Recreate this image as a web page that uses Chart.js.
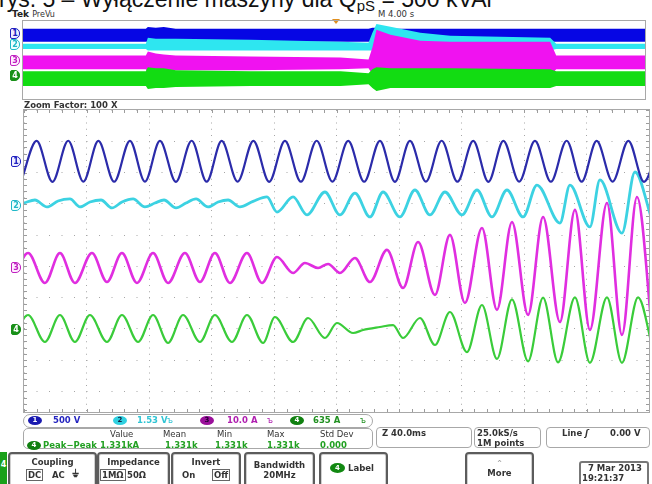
<!DOCTYPE html>
<html>
<head>
<meta charset="utf-8">
<script src="https://cdn.jsdelivr.net/npm/chart.js@4.4.1/dist/chart.umd.min.js"></script>
<style>
  html, body { margin: 0; padding: 0; background: #fff; }
  #page { position: relative; width: 652px; height: 484px; overflow: hidden; font-family: "DejaVu Sans", sans-serif; color: #222; }
  .abs { position: absolute; white-space: nowrap; }
  .title { font-family: "Liberation Sans", Arial, sans-serif; font-size: 23px; line-height: 23px; color: #111; }
  .small { font-size: 8.5px; line-height: 10px; }
  .marker { position: absolute; width: 10px; height: 11px; box-sizing: border-box; border: 1px solid; border-radius: 2px 5px 5px 2px;
            font: bold 8px/9px "DejaVu Sans", sans-serif; text-align: center; }
  .frame { position: absolute; box-sizing: border-box; border: 1px solid #a8a8a8; }
  .badge { position: absolute; width: 14px; height: 9px; border-radius: 50%; font: bold 7px/9px "DejaVu Sans", sans-serif; text-align: center; }
  .btn { position: absolute; top: 452px; height: 40px; box-sizing: border-box; border: 2px solid #5c5c5c; border-radius: 4px;
         box-shadow: inset 0 0 0 1px #d0d0d0; background: #fff; font: bold 8.5px/10px "DejaVu Sans", sans-serif; color: #333; text-align: center; }
  .opt { position: absolute; font: bold 8.5px/10px "DejaVu Sans", sans-serif; color: #333; }
  .boxed { border: 1px solid #666; padding: 0 1px; }
</style>
</head>
<body>
<div id="page">
  <!-- caption above the screen capture -->
  <div class="abs title" style="left:-1px; top:-12px;">rys. 5 – Wyłączenie maszyny dla Q<span style="font-size:15px; position:relative; top:4px;">pS</span> = 500 kVAr</div>

  <!-- header of the record overview -->
  <div class="abs" style="left:12px; top:9px; font: bold 9px/10px 'DejaVu Sans', sans-serif; color:#222;">Tek <span style="font-weight:normal; font-size:8px; color:#333;">PreVu</span></div>
  <div class="abs" style="left:378px; top:9px; font: 8.5px/10px 'DejaVu Sans', sans-serif; color:#333;">M 4.00 s</div>
  <div class="abs" style="left:332px; top:19px; width:0; height:0; border-left:4px solid transparent; border-right:4px solid transparent; border-top:5px solid #e09020;"></div>

  <!-- overview window -->
  <div class="frame" style="left:22px; top:20px; width:624px; height:80px;"></div>
  <canvas id="overview" class="abs" width="622" height="78" style="left:23px; top:21px;"></canvas>
  <div class="marker" style="left:10px; top:28px; color:#2020c0; border-color:#2020c0; background:#eef;">1</div>
  <div class="marker" style="left:10px; top:39px; color:#20b8c8; border-color:#20b8c8; background:#eff;">2</div>
  <div class="marker" style="left:10px; top:55px; color:#c020c0; border-color:#c020c0; background:#fef;">3</div>
  <div class="marker" style="left:10px; top:70px; color:#fff; border-color:#189018; background:#189018;">4</div>

  <div class="abs" style="left:24px; top:100px; font: bold 8.5px/10px 'DejaVu Sans', sans-serif; color:#333;">Zoom Factor: 100 X</div>

  <!-- zoomed waveform window -->
  <div class="frame" style="left:23px; top:109px; width:627px; height:304px;"></div>
  <canvas id="zoom" class="abs" width="625" height="302" style="left:24px; top:110px;"></canvas>
  <div class="marker" style="left:11px; top:156px; color:#2020c0; border-color:#2020c0; background:#eef;">1</div>
  <div class="marker" style="left:11px; top:200px; color:#20b8c8; border-color:#20b8c8; background:#eff;">2</div>
  <div class="marker" style="left:11px; top:262px; color:#c020c0; border-color:#c020c0; background:#fef;">3</div>
  <div class="marker" style="left:11px; top:324px; color:#fff; border-color:#189018; background:#189018;">4</div>

  <!-- channel readouts -->
  <div class="frame" style="left:23px; top:414px; width:350px; height:14px; border-radius:7px;"></div>
  <div class="badge" style="left:28px; top:416px; background:#1a1ab0; color:#fff;">1</div>
  <div class="abs small" style="left:53px; top:415px; color:#2525c0; font-weight:bold;">500 V</div>
  <div class="badge" style="left:113px; top:416px; background:#30d0e0; color:#124;">2</div>
  <div class="abs small" style="left:137px; top:415px; color:#30c4d4; font-weight:bold;">1.53 V</div>
  <div class="abs small" style="left:167px; top:415px; color:#30c4d4;">ъ</div>
  <div class="badge" style="left:200px; top:416px; background:#9a109a; color:#203;">3</div>
  <div class="abs small" style="left:227px; top:415px; color:#b020b0; font-weight:bold;">10.0 A</div>
  <div class="abs small" style="left:267px; top:415px; color:#b020b0;">ъ</div>
  <div class="badge" style="left:290px; top:416px; background:#108010; color:#fff;">4</div>
  <div class="abs small" style="left:313px; top:415px; color:#209020; font-weight:bold;">635 A</div>
  <div class="abs small" style="left:360px; top:415px; color:#209020;">ъ</div>

  <!-- measurement readout -->
  <div class="frame" style="left:23px; top:428px; width:350px; height:21px; border-radius:5px;"></div>
  <div class="abs small" style="left:110px; top:429px; color:#333;">Value</div>
  <div class="abs small" style="left:163px; top:429px; color:#333;">Mean</div>
  <div class="abs small" style="left:217px; top:429px; color:#333;">Min</div>
  <div class="abs small" style="left:267px; top:429px; color:#333;">Max</div>
  <div class="abs small" style="left:320px; top:429px; color:#333;">Std Dev</div>
  <div class="badge" style="left:27px; top:441px; background:#108010; color:#fff;">4</div>
  <div class="abs small" style="left:43px; top:440px; color:#22a022; font-weight:bold;">Peak−Peak</div>
  <div class="abs small" style="left:100px; top:440px; color:#22a022; font-weight:bold;">1.331kA</div>
  <div class="abs small" style="left:165px; top:440px; color:#22a022; font-weight:bold;">1.331k</div>
  <div class="abs small" style="left:215px; top:440px; color:#22a022; font-weight:bold;">1.331k</div>
  <div class="abs small" style="left:267px; top:440px; color:#22a022; font-weight:bold;">1.331k</div>
  <div class="abs small" style="left:320px; top:440px; color:#22a022; font-weight:bold;">0.000</div>

  <!-- timebase and trigger readouts -->
  <div class="frame" style="left:376px; top:427px; width:96px; height:21px; border-radius:4px;"></div>
  <div class="abs small" style="left:382px; top:428px; color:#333; font-weight:bold;">Z 40.0ms</div>
  <div class="frame" style="left:474px; top:427px; width:67px; height:21px; border-radius:4px;"></div>
  <div class="abs small" style="left:477px; top:428px; color:#333; font-weight:bold;">25.0kS/s</div>
  <div class="abs small" style="left:477px; top:438px; color:#333; font-weight:bold;">1M points</div>
  <div class="frame" style="left:546px; top:427px; width:104px; height:21px; border-radius:4px;"></div>
  <div class="abs small" style="left:562px; top:428px; color:#333; font-weight:bold;">Line <span style="font-style:italic;">ʃ</span></div>
  <div class="abs small" style="left:610px; top:428px; color:#333; font-weight:bold;">0.00 V</div>

  <!-- soft menu -->
  <div class="abs" style="left:0; top:452px; width:7px; height:32px; background:#1aa01a; color:#fff; font: bold 8px/10px 'DejaVu Sans', sans-serif; text-align:center; padding-top:8px; box-sizing:border-box;">4</div>
  <div class="btn" style="left:8px; width:89px;"><div style="margin-top:3px;">Coupling</div></div>
  <div class="opt boxed" style="left:26px; top:469px;">DC</div>
  <div class="opt" style="left:52px; top:470px;">AC</div>
  <div class="opt" style="left:72px; top:469px; font-size:10px;">⏚</div>
  <div class="btn" style="left:97px; width:73px;"><div style="margin-top:3px;">Impedance</div></div>
  <div class="opt boxed" style="left:100px; top:469px;">1MΩ</div>
  <div class="opt" style="left:127px; top:470px;">50Ω</div>
  <div class="btn" style="left:171px; width:70px;"><div style="margin-top:3px;">Invert</div></div>
  <div class="opt" style="left:182px; top:470px;">On</div>
  <div class="opt boxed" style="left:212px; top:469px;">Off</div>
  <div class="btn" style="left:244px; width:71px;"><div style="margin-top:6px;">Bandwidth</div><div>20MHz</div></div>
  <div class="btn" style="left:319px; width:69px;"></div>
  <div class="badge" style="left:330px; top:463px; width:15px; height:10px; background:#118811; color:#fff; line-height:10px;">4</div>
  <div class="opt" style="left:348px; top:463px;">Label</div>
  <div class="btn" style="left:465px; width:69px;"><div style="margin-top:4px; color:#999; font-weight:normal;">⌃</div><div>More</div></div>
  <div class="frame" style="left:579px; top:461px; width:70px; height:30px; border:2px solid #777; border-radius:3px;"></div>
  <div class="opt" style="left:588px; top:463px;">7 Mar 2013</div>
  <div class="opt" style="left:582px; top:473px;">19:21:37</div>
</div>

<script>
// ---- zoomed acquisition window (time in ms, 40 ms/div) ----
// Ch1 voltage extremes
const ch1Time = [-1.9, 8.1, 18.2, 28.3, 38.0, 47.6, 57.7, 67.8, 77.4, 87.0, 97.2, 107.3, 116.9, 126.5,
  136.7, 146.8, 156.9, 167.0, 177.2, 187.3, 197.4, 207.5, 217.7, 227.8, 237.4, 247.0, 257.2, 267.3,
  277.4, 287.5, 297.2, 306.8, 316.9, 327.0, 337.2, 347.3, 356.9, 366.5, 376.7, 386.8, 396.8, 406.8];
const ch1Volt = [-322, 330, -325, 332, -322, 330, -324, 331, -322, 330, -325, 332, -323, 330,
  -322, 331, -325, 330, -323, 332, -322, 330, -324, 331, -325, 330, -322, 332,
  -323, 330, -325, 331, -322, 330, -324, 332, -323, 330, -322, 331, -325, 330];

// Ch2 probe signal
const ch2Time = [0, 7.0, 14.7, 21.8, 29.4, 35.8, 42.2, 49.3, 56.3, 62.7, 69.8, 77.4, 83.8, 89.6,
  97.3, 103.7, 110.1, 117.8, 124.2, 130.6, 138.2, 146.6, 155.5, 161.9, 172.2, 181.1, 192.6, 202.2,
  211.8, 221.4, 229.8, 240.6, 250.2, 259.8, 269.4, 280.3, 289.9, 299.5, 309.1, 319.4, 328.3, 343.0,
  349.4, 362.2, 368.6, 382.7, 391.0, 401.9];
const ch2Volt = [0.12, 0.27, -0.07, 0.22, 0.32, -0.07, 0.17, 0.27, -0.12, 0.17, 0.32, -0.07, 0.12, 0.27,
  -0.12, 0.12, 0.32, -0.07, 0.17, 0.27, -0.07, 0.20, 0.42, -0.32, 0.42, -0.46, 0.66, -0.46,
  0.61, -0.56, 0.66, -0.56, 0.76, -0.46, 0.66, -0.46, 0.76, -0.56, 0.76, -0.56, 1.00, -0.86,
  1.00, -1.05, 1.25, -1.35, 1.64, -0.71];

// Ch3 current
const ch3Time = [-7.7, 2.6, 13.4, 23.0, 32.6, 43.5, 53.1, 62.7, 72.3, 82.6, 92.2, 103.0, 112.6, 122.2,
  131.8, 142.7, 152.3, 161.9, 172.2, 179.8, 188.2, 194.6, 202.2, 211.8, 221.4, 232.3, 242.6, 252.2,
  263.0, 272.6, 282.2, 293.1, 302.7, 312.3, 322.6, 332.2, 343.0, 352.6, 362.2, 373.1, 382.7, 392.3, 402.6];
const ch3Amp = [-4.9, 4.7, -4.9, 4.7, -4.9, 4.7, -4.6, 4.7, -4.9, 4.7, -4.9, 4.7, -4.6, 4.7,
  -4.9, 4.7, -4.9, 3.4, -1.7, 1.5, -0.1, 1.2, -1.7, 3.1, -4.6, 5.7, -6.5, 8.2,
  -8.7, 10.5, -11.3, 12.7, -13.5, 14.6, -15.1, 16.2, -17.4, 18.5, -19.9, 20.7, -21.5, 22.6, -23.8];

// Ch4 current
const ch4Time = [-7.7, 2.6, 13.4, 23.0, 32.6, 42.2, 53.1, 62.7, 73.0, 82.6, 92.2, 101.8, 112.6, 122.2,
  133.1, 142.7, 153.0, 160.6, 172.2, 181.8, 192.6, 200.3, 210.6, 217.0, 227.8, 236.2, 242.6, 253.4,
  263.0, 272.6, 283.5, 293.1, 302.7, 312.3, 322.6, 332.2, 341.8, 352.6, 362.2, 373.1, 382.7, 393.0, 402.6];
const ch4Amp = [-258, 291, -258, 291, -258, 291, -258, 291, -258, 291, -278, 291, -258, 291,
  -258, 291, -278, 250, -258, 230, -177, 128, -75, -14, 47, 87, -177, 230,
  -319, 352, -463, 494, -600, 610, -650, 645, -670, 650, -680, 650, -680, 650, -420];

// ---- whole record overview (time in s, 4 s/div): envelope of each channel ----
const overviewTime = [0, 7.90, 8.03, 8.54, 9.05, 9.82, 14.64, 20.42, 22.22, 22.47, 22.73, 23.63, 25.55, 27.48, 33.90, 34.29, 40.0];
const ovCh1High = [314, 314, 442, 378, 442, 314, 314, 314, 314, 378, 378, 314, 314, 314, 314, 314, 314];
const ovCh1Low  = [-519, -519, -519, -519, -519, -519, -519, -519, -519, -519, -519, -519, -519, -519, -519, -519, -519];
const ovCh2High = [0.18, 0.18, 1.35, 1.16, 1.16, 1.16, 0.96, 0.57, 0.37, 2.33, 4.10, 3.51, 2.33, 1.75, 1.35, 0.18, 0.18];
const ovCh2Low  = [-0.90, -0.90, -1.20, -1.20, -1.20, -1.20, -1.20, -1.20, -1.20, -1.20, -1.20, -1.20, -1.20, -1.20, -1.20, -0.90, -0.90];
const ovCh3High = [5.6, 5.6, 10.8, 8.2, 6.9, 5.6, 4.4, 3.1, 0.5, 15.9, 39.0, 32.6, 24.9, 23.6, 23.6, 5.6, 5.6];
const ovCh3Low  = [-12.3, -12.3, -17.4, -16.1, -15.6, -13.6, -13.6, -12.3, -11.0, -18.7, -40.5, -25.1, -22.6, -21.3, -21.3, -12.3, -12.3];
const ovCh4High = [309, 309, 635, 553, 553, 391, 309, 309, 147, 472, 635, 553, 553, 553, 472, 309, 309];
const ovCh4Low  = [-912, -912, -1156, -1074, -1074, -993, -912, -912, -749, -1074, -1319, -1074, -1074, -1074, -1074, -912, -912];

// vertical settings of the four channels: units per division and ground marker (divisions below top)
const unitsPerDiv = [500, 1.53, 10.0, 635];
const markerDiv = [1.648, 3.056, 5.046, 7.018];
const traceColors = ['#2b2baa', '#3cd2e2', '#e02ee0', '#3acc3a'];
const bandColors = ['#0606e4', '#2ee6f0', '#f012f0', '#12dc12'];

const toDiv = (v, ch) => -markerDiv[ch] + v / unitsPerDiv[ch];
const pts = (times, vals, ch) => times.map((t, i) => ({ x: t, y: toDiv(vals[i], ch) }));

// short minor ticks along the graticule edges
const edgeTicks = {
  id: 'edgeTicks',
  beforeDatasetsDraw(chart) {
    const { ctx, chartArea: a, scales: { x, y } } = chart;
    ctx.save();
    ctx.strokeStyle = '#9c9c9c';
    ctx.lineWidth = 1;
    ctx.beginPath();
    for (let t = 0; t <= 400; t += 8) {
      const px = Math.round(x.getPixelForValue(t)) + 0.5;
      ctx.moveTo(px, a.top); ctx.lineTo(px, a.top + 3);
      ctx.moveTo(px, a.bottom); ctx.lineTo(px, a.bottom - 3);
    }
    for (let d = 0; d >= y.min; d -= 0.2) {
      const py = Math.round(y.getPixelForValue(d)) + 0.5;
      ctx.moveTo(a.left, py); ctx.lineTo(a.left + 3, py);
      ctx.moveTo(a.right, py); ctx.lineTo(a.right - 3, py);
    }
    ctx.stroke();
    ctx.restore();
  }
};

const trace = (data, ch, width) => ({
  data, borderColor: traceColors[ch], borderWidth: width, pointRadius: 0,
  cubicInterpolationMode: 'monotone', fill: false
});

new Chart(document.getElementById('zoom'), {
  type: 'line',
  data: {
    datasets: [
      trace(pts(ch1Time, ch1Volt, 0), 0, 2.2),
      trace(pts(ch2Time, ch2Volt, 1), 1, 2.8),
      trace(pts(ch4Time, ch4Amp, 3), 3, 2.2),
      trace(pts(ch3Time, ch3Amp, 2), 2, 2.6)
    ]
  },
  options: {
    responsive: false, animation: false, events: [],
    layout: { padding: 0 },
    plugins: { legend: { display: false }, tooltip: { enabled: false } },
    scales: {
      x: {
        type: 'linear', min: 0, max: 400,
        ticks: { display: false, stepSize: 40, includeBounds: false },
        grid: { color: '#a6a6a6', lineWidth: 1, drawTicks: false },
        border: { display: false, dash: [1, 5.25] }
      },
      y: {
        type: 'linear', min: -9.664, max: 0,
        ticks: { display: false, stepSize: 1, includeBounds: false },
        grid: { color: '#a6a6a6', lineWidth: 1, drawTicks: false },
        border: { display: false, dash: [1, 11.5] }
      }
    }
  },
  plugins: [edgeTicks]
});

// filled envelope bands of the overview
const bandSets = [];
const highs = [ovCh4High, ovCh3High, ovCh2High, ovCh1High];
const lows = [ovCh4Low, ovCh3Low, ovCh2Low, ovCh1Low];
[3, 2, 1, 0].forEach((ch, k) => {
  bandSets.push({
    data: pts(overviewTime, highs[k], ch), borderWidth: 0, borderColor: bandColors[ch],
    backgroundColor: bandColors[ch], pointRadius: 0, tension: 0, fill: '+1'
  });
  bandSets.push({
    data: pts(overviewTime, lows[k], ch), borderWidth: 0, borderColor: bandColors[ch],
    pointRadius: 0, tension: 0, fill: false
  });
});

new Chart(document.getElementById('overview'), {
  type: 'line',
  data: { datasets: bandSets },
  options: {
    responsive: false, animation: false, events: [],
    layout: { padding: 0 },
    plugins: { legend: { display: false }, tooltip: { enabled: false } },
    scales: {
      x: { type: 'linear', min: 0, max: 40, display: false },
      y: { type: 'linear', min: -10.128, max: 0, display: false }
    }
  }
});
</script>
</body>
</html>
